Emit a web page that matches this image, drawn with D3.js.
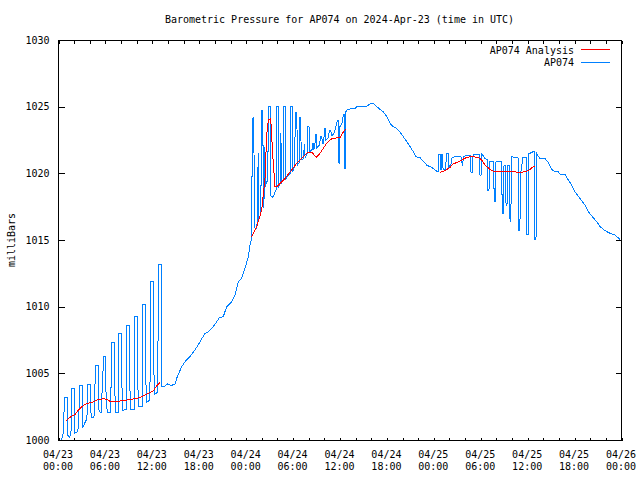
<!DOCTYPE html>
<html>
<head>
<meta charset="utf-8">
<script src="https://cdn.jsdelivr.net/npm/d3@7"></script>
<style>
  html, body { margin: 0; padding: 0; background: #fff; }
  svg { display: block; }
  text { font-family: "DejaVu Sans Mono", "Liberation Mono", monospace; font-size: 10px; fill: #000; }
</style>
</head>
<body>
<svg id="chart" width="640" height="480"></svg>
<script>
// ---------- data ----------
const chartTitle = "Barometric Pressure for AP074 on 2024-Apr-23 (time in UTC)";
const yLabel = "milliBars";
const seriesNames = ["AP074 Analysis", "AP074"];
const yTicks = [1000, 1005, 1010, 1015, 1020, 1025, 1030];
const xTickHours = [0, 6, 12, 18, 24, 30, 36, 42, 48, 54, 60, 66, 72];
const xTickDates = ["04/23","04/23","04/23","04/23","04/24","04/24","04/24","04/24","04/25","04/25","04/25","04/25","04/26"];
const xTickTimes = ["00:00","06:00","12:00","18:00","00:00","06:00","12:00","18:00","00:00","06:00","12:00","18:00","00:00"];

// AP074 Analysis: [hours since 04/23 00:00 UTC, mb]
const analysisPart1 = [[1.02,1001.45],[1.32,1001.6],[1.75,1001.8],[2.17,1001.9],[2.6,1002.25],[3.03,1002.5],[3.67,1002.75],[4.31,1002.8],[4.95,1003.0],[5.79,1003.1],[6.23,1003.05],[6.65,1002.9],[7.51,1002.9],[8.35,1002.95],[9.21,1003.05],[10.06,1003.1],[10.91,1003.3],[11.55,1003.5],[12.19,1003.7],[12.62,1004.05],[13.04,1004.3]];
const analysisPart2 = [[24.77,1015.25],[25.41,1016.0],[26.05,1017.25],[26.47,1019.6],[26.69,1022.9],[26.9,1024.0],[27.2,1024.1],[27.46,1021.4],[27.75,1019.0],[27.97,1019.0],[28.39,1019.25],[29.03,1019.6],[29.67,1020.1],[30.53,1020.75],[31.37,1021.25],[32.01,1021.6],[32.45,1021.6],[33.0,1021.2],[33.51,1021.5],[34.36,1022.25],[35.0,1022.6],[36.07,1022.7],[36.49,1023.1],[36.75,1023.3]];
const analysisPart3 = [[48.85,1020.08],[49.49,1020.2],[50.13,1020.45],[50.55,1020.7],[51.19,1020.87],[51.63,1021.0],[52.27,1021.2],[52.91,1021.25],[53.75,1021.2],[54.19,1021.0],[54.61,1020.62],[55.25,1020.3],[55.67,1020.17],[56.95,1020.17],[58.02,1020.17],[58.66,1020.08],[59.3,1020.08],[59.94,1020.17],[60.36,1020.3],[60.79,1020.5],[61.0,1020.55]];

// AP074 station readings: [hours since 04/23 00:00 UTC, mb]
const ap074Part1 = [[0.1,1000.0],[0.45,1000.0],[0.65,1000.5],[0.8,1002.5],[0.87,1003.2],[1.17,1003.2],[1.22,1000.4],[1.45,1000.2],[1.65,1000.4],
 [1.72,1001.5],[1.77,1003.9],[2.07,1003.9],[2.12,1000.5],[2.45,1000.6],[2.65,1001.0],
 [2.72,1003.4],[2.79,1004.1],[3.09,1004.1],[3.14,1000.9],[3.45,1001.3],[3.7,1001.6],
 [3.81,1004.2],[4.11,1004.2],[4.16,1002.8],[4.25,1001.7],[4.6,1001.7],
 [4.75,1004.5],[4.84,1005.6],[5.14,1005.6],[5.19,1002.3],[5.5,1002.0],
 [5.75,1005.0],[5.8,1006.3],[6.1,1006.3],[6.15,1003.0],[6.3,1002.1],[6.75,1002.1],
 [6.83,1007.0],[6.88,1007.3],[7.18,1007.3],[7.23,1004.6],[7.35,1002.1],[7.7,1002.1],
 [7.75,1007.8],[7.78,1008.0],[8.08,1008.0],[8.13,1005.4],[8.25,1002.2],[8.7,1002.3],
 [8.75,1006.0],[8.8,1008.6],[9.1,1008.6],[9.15,1004.5],[9.3,1002.3],[9.75,1002.3],
 [9.78,1005.5],[9.83,1009.3],[10.13,1009.3],[10.18,1004.7],[10.3,1002.5],[10.75,1002.5],
 [10.8,1006.8],[10.85,1010.2],[11.15,1010.2],[11.2,1005.8],[11.3,1002.8],[11.75,1003.0],
 [11.82,1008.3],[11.87,1011.9],[12.17,1011.9],[12.22,1007.0],[12.32,1003.4],[12.75,1003.6],
 [12.85,1012.8],[12.89,1013.2],[13.19,1013.2],[13.24,1004.0],
 [13.6,1004.0],[14.0,1004.2],[14.5,1004.1],[14.96,1004.18],[15.18,1004.63],[15.82,1005.5],[16.24,1005.87],[16.88,1006.25],[17.52,1006.75],[18.16,1007.37],[18.8,1008.0],[19.22,1008.12],[19.86,1008.5],[20.29,1008.87],[20.63,1009.17],[21.14,1009.25],[21.57,1010.0],[22.21,1010.37],[22.63,1010.87],[23.06,1011.87],[23.49,1012.12],[23.91,1012.87],[24.34,1013.75],[24.55,1014.62],[24.77,1015.1]];
const ap074Part2 = [[24.85,1024.1],[25.05,1024.2],[25.1,1016.0],[25.3,1015.8],[25.5,1016.3],[25.6,1021.5],[25.7,1016.6],[25.95,1017.0],[26.0,1024.7],[26.2,1024.75],[26.25,1017.4],[26.4,1018.5],[26.45,1022.0],
 [26.5,1019.0],[26.8,1019.5],[26.95,1025.0],[27.15,1025.0],[27.2,1018.3],[27.5,1018.2],[27.9,1018.8],[27.95,1025.05],[28.15,1025.05],[28.2,1019.0],[28.4,1019.2],[28.5,1023.0],[28.6,1019.3],[28.85,1019.5],[28.9,1025.0],[29.1,1025.0],[29.15,1019.6],[29.4,1019.8],[29.7,1020.0],[29.75,1025.0],[29.95,1025.0],[30.0,1020.1],[30.2,1020.4],[30.4,1024.6],[30.55,1024.6],[30.6,1020.6],[30.85,1020.8],[30.9,1024.2],[31.05,1024.2],[31.1,1021.0],[31.4,1021.1],[31.5,1022.2],[31.6,1021.2],[31.9,1021.5],[31.95,1023.5],[32.1,1023.5],[32.15,1021.6],[32.5,1021.8],[32.6,1022.3],[32.7,1021.8],[32.85,1021.9],[32.9,1022.9],[33.05,1022.9],[33.1,1021.9],[33.4,1022.1],[33.6,1022.75],[33.75,1022.75],[33.8,1022.2],[34.0,1022.3],[34.05,1023.4],[34.2,1023.4],[34.25,1022.5],[34.5,1022.6],[34.75,1023.25],[34.9,1023.25],[34.95,1022.8],[35.3,1023.0],[35.5,1023.4],[35.75,1024.0],[35.85,1024.0],[35.9,1020.8],[36.0,1020.75],[36.05,1023.5],[36.3,1023.7],[36.5,1024.4],[36.6,1024.4],[36.65,1020.4],[36.75,1020.4],[36.8,1024.6],[36.92,1024.75],
 [37.34,1024.82],[37.98,1024.87],[38.2,1025.0],[38.62,1025.05],[39.48,1025.05],[39.68,1025.12],[40.12,1025.25],[40.41,1025.2],[40.76,1025.0],[41.18,1024.8],[41.6,1024.62],[42.04,1024.25],[42.46,1023.75],[42.88,1023.5],[43.32,1023.37],[43.74,1023.08],[44.16,1022.75],[44.6,1022.37],[45.02,1022.0],[45.44,1021.62],[45.78,1021.25],[46.3,1021.17],[46.72,1020.92],[47.15,1020.62],[47.57,1020.5],[47.99,1020.37],[48.43,1020.17],[48.63,1020.12]];
const ap074Part3 = [[48.72,1021.45],[48.92,1021.45],[48.98,1020.25],[49.11,1021.45],[49.24,1020.4],[49.49,1020.2],[49.75,1021.52],[49.94,1021.52],[50.0,1020.47],[50.26,1020.7],[50.39,1021.15],[50.77,1021.25],[51.54,1021.25],[51.73,1020.55],[51.86,1021.22],[52.27,1021.37],[52.69,1021.37],[52.82,1020.1],[53.01,1020.1],[53.08,1021.37],[53.55,1021.45],[53.91,1021.4],[53.97,1019.87],[54.1,1019.87],[54.22,1021.45],[54.61,1021.12],[54.93,1021.0],[54.99,1018.75],[55.12,1018.75],[55.18,1020.92],[55.7,1020.85],[55.79,1017.87],[55.92,1017.87],[56.01,1020.85],[56.18,1020.87],[56.72,1020.87],[56.82,1017.0],[56.95,1017.0],[57.04,1020.62],[57.23,1020.62],[57.3,1017.62],[57.42,1017.62],[57.49,1020.62],[57.74,1020.62],[57.81,1016.37],[57.91,1016.37],[58.0,1021.25],[58.57,1021.17],[58.83,1021.15],[58.92,1015.75],[59.02,1015.75],[59.12,1017.0],[59.19,1020.1],[59.47,1021.22],[59.92,1021.22],[59.98,1015.42],[60.11,1015.42],[60.17,1021.45],[60.75,1021.62],[60.96,1021.62],[61.0,1015.07],[61.13,1015.07],[61.19,1021.6],[61.3,1021.37],
 [61.64,1021.12],[62.28,1021.12],[62.7,1020.8],[63.14,1020.3],[63.56,1020.12],[63.98,1020.12],[64.2,1019.95],[64.84,1019.95],[65.26,1019.5],[65.7,1019.12],[66.12,1018.62],[66.76,1018.12],[67.4,1017.62],[67.83,1017.12],[68.26,1016.8],[68.9,1016.37],[69.32,1016.0],[69.96,1015.7],[70.6,1015.5],[71.24,1015.37],[71.88,1015.05]];

const analysisSeries = [analysisPart1, analysisPart2, analysisPart3];
const ap074Series = [ap074Part1.concat(ap074Part2, ap074Part3)];

// ---------- layout ----------
const svg = d3.select("#chart");
const plotLeft = 58, plotRight = 621, plotTop = 40, plotBottom = 440;
const RED = "#ff0000", BLUE = "#0080ff";

const x = d3.scaleLinear().domain([0, 72]).range([plotLeft, plotRight]);
const y = d3.scaleLinear().domain([1000, 1030]).range([plotBottom, plotTop]);

svg.append("rect").attr("width", 640).attr("height", 480).attr("fill", "#fff");

// title
svg.append("text").attr("x", 339.5).attr("y", 23).attr("text-anchor", "middle").text(chartTitle);

// y label
svg.append("text").attr("transform", "translate(15,240) rotate(-90)").attr("text-anchor", "middle").text(yLabel);

// axes
const yAxisL = d3.axisLeft(y).tickValues(yTicks).tickSize(-6).tickPadding(9).tickFormat(d3.format("d"));
const gL = svg.append("g").attr("transform", `translate(${plotLeft + 0.5},0)`).call(yAxisL);
const yAxisR = d3.axisRight(y).tickValues(yTicks).tickSize(-6).tickFormat("");
const gR = svg.append("g").attr("transform", `translate(${plotRight + 0.5},0)`).call(yAxisR);

const minorHours = d3.range(0, 73, 2);
const xAxisB = d3.axisBottom(x).tickValues(minorHours).tickSize(-3).tickFormat("");
const gB = svg.append("g").attr("transform", `translate(0,${plotBottom + 0.5})`).call(xAxisB);
const xAxisT = d3.axisTop(x).tickValues(minorHours).tickSize(-3).tickFormat("");
const gT = svg.append("g").attr("transform", `translate(0,${plotTop + 0.5})`).call(xAxisT);

[gL, gR, gB, gT].forEach(g => {
  g.select(".domain").remove();
  g.selectAll(".tick line").attr("stroke", "#000").attr("shape-rendering", "crispEdges");
  g.selectAll("text").attr("font-family", "DejaVu Sans Mono").attr("font-size", 10).attr("fill", "#000");
});
gB.selectAll(".tick line").attr("transform", "translate(0.5,0)");
gT.selectAll(".tick line").attr("transform", "translate(0.5,0)");

// x tick labels (two lines)
const xl = svg.append("g");
xTickHours.forEach((h, i) => {
  xl.append("text").attr("x", x(h)).attr("y", 458).attr("text-anchor", "middle").text(xTickDates[i]);
  xl.append("text").attr("x", x(h)).attr("y", 470).attr("text-anchor", "middle").text(xTickTimes[i]);
});

// data lines
const line = d3.line().x(d => x(d[0])).y(d => y(d[1]));
const plot = svg.append("g");
plot.selectAll("path.ap").data(ap074Series).join("path")
  .attr("class", "ap").attr("d", line).attr("fill", "none")
  .attr("stroke", BLUE).attr("stroke-width", 1).attr("shape-rendering", "crispEdges");
plot.selectAll("path.an").data(analysisSeries).join("path")
  .attr("class", "an").attr("d", line).attr("fill", "none")
  .attr("stroke", RED).attr("stroke-width", 1).attr("shape-rendering", "crispEdges");

// frame
svg.append("rect").attr("x", plotLeft + 0.5).attr("y", plotTop + 0.5)
  .attr("width", plotRight - plotLeft).attr("height", plotBottom - plotTop)
  .attr("fill", "none").attr("stroke", "#000").attr("shape-rendering", "crispEdges");

// legend
const legendColors = [RED, BLUE];
const lg = svg.append("g");
seriesNames.forEach((name, i) => {
  const ly = 50 + i * 12.5;
  lg.append("text").attr("x", 574).attr("y", ly + 3.5).attr("text-anchor", "end").text(name);
  lg.append("line").attr("x1", 581).attr("x2", 610).attr("y1", Math.round(ly) - 0.5).attr("y2", Math.round(ly) - 0.5)
    .attr("stroke", legendColors[i]).attr("shape-rendering", "crispEdges");
});
</script>
</body>
</html>
